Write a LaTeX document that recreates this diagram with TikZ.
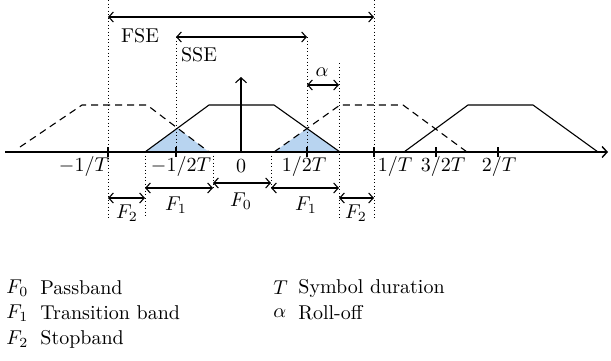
\documentclass[tikz,border=0pt]{standalone}
\usetikzlibrary{arrows.meta}
\definecolor{triblue}{RGB}{184,212,240}
\begin{document}
\begin{tikzpicture}[x=0.5pt,y=-0.5pt,
  ax/.style={line width=0.7pt},
  trap/.style={line width=0.55pt},
  dtrap/.style={line width=0.55pt, dash pattern=on 3.5pt off 2.5pt},
  vdot/.style={line width=0.45pt, dash pattern=on 0.45pt off 1.3pt},
  tipa/.style={-{Straight Barb[length=2.5pt,width=5.5pt]}},
  dimarr/.style={line width=0.55pt, {Straight Barb[length=2.3pt,width=5pt]}-{Straight Barb[length=2.3pt,width=5pt]}},
  tri/.style={fill=triblue, draw=none},
  lbl/.style={font=\fontsize{10}{12}\selectfont, inner sep=1pt},
  tick/.style={line width=0.55pt},
]
\useasboundingbox (0,0) rectangle (611,360);

% shaded triangles
\fill[tri] (145,152) -- (177.5,128.1) -- (209,152) -- cycle;
\fill[tri] (274,152) -- (307,128.5) -- (340,152) -- cycle;

% axis
\coordinate (axL) at (5,152);
\coordinate (axR) at (608,152);
\draw[ax,tipa] (axL) -- (axR);

% trapezoids
\draw[trap] (145,152) -- (209,105) -- (274,105) -- (340,152);
\draw[trap] (404,152) -- (468,105) -- (533,105) -- (598,152);
\draw[dtrap] (20,147) -- (82,105) -- (147,105) -- (209,152);
\draw[dtrap] (274,152) -- (340,105) -- (403,105) -- (467,152);

% vertical arrow at 0
\coordinate (o) at (241,152);
\coordinate (otop) at (241,77);
\draw[trap,tipa] (o) -- (otop);

% ticks
\foreach \x in {108,176,307,374,436,498}
  \draw[tick] (\x,147) -- (\x,157);

% tick labels
\node[lbl] (tm1) at (84,166) {$-1/T$};
\node[lbl] (tmh) at (181,166) {$-1/2T$};
\node[lbl] (t0) at (241,166) {$0$};
\node[lbl] (tph) at (304,166) {$1/2T$};
\node[lbl] (tp1) at (395,166) {$1/T$};
\node[lbl] (tp3) at (443,166) {$3/2T$};
\node[lbl] (tp2) at (499,166) {$2/T$};

% dotted guides
\coordinate (d1t) at (108,0);   \coordinate (d1b) at (108,218);
\coordinate (d2t) at (374,0);   \coordinate (d2b) at (374,218);
\coordinate (d3t) at (176,37);  \coordinate (d3b) at (176,152);
\coordinate (d4t) at (307,37);  \coordinate (d4b) at (307,152);
\coordinate (d5t) at (339,63);  \coordinate (d5b) at (339,218);
\coordinate (d6t) at (145,152); \coordinate (d6b) at (145,218);
\coordinate (d7t) at (213,152); \coordinate (d7b) at (213,190);
\coordinate (d8t) at (271,152); \coordinate (d8b) at (271,190);
\foreach \i in {1,...,8} \draw[vdot] (d\i t) -- (d\i b);

% dimension arrows
\coordinate (fseL) at (108,17); \coordinate (fseR) at (374,17);
\draw[dimarr] (fseL) -- (fseR);
\node[lbl] (fse) at (140,36) {FSE};
\coordinate (sseL) at (176,37); \coordinate (sseR) at (307,37);
\draw[dimarr] (sseL) -- (sseR);
\node[lbl] (sse) at (199,55) {SSE};
\coordinate (alL) at (307,85); \coordinate (alR) at (339,85);
\draw[dimarr] (alL) -- (alR);
\node[lbl] (al) at (322,72) {$\alpha$};

\coordinate (a1) at (108,198); \coordinate (a2) at (145,198);
\draw[dimarr] (a1) -- (a2);
\node[lbl] (f2l) at (127,213) {$F_2$};
\coordinate (b1) at (145,188); \coordinate (b2) at (213,188);
\draw[dimarr] (b1) -- (b2);
\node[lbl] (f1l) at (176,205) {$F_1$};
\coordinate (c1) at (213,183); \coordinate (c2) at (271,183);
\draw[dimarr] (c1) -- (c2);
\node[lbl] (f0) at (241,201) {$F_0$};
\coordinate (e1) at (271,188); \coordinate (e2) at (339,188);
\draw[dimarr] (e1) -- (e2);
\node[lbl] (f1r) at (306,205) {$F_1$};
\coordinate (g1) at (339,198); \coordinate (g2) at (374,198);
\draw[dimarr] (g1) -- (g2);
\node[lbl] (f2r) at (356,213) {$F_2$};

% legend
\node[lbl,anchor=west] (k0) at (4,288) {$F_0$};
\node[lbl,anchor=west] (v0) at (38,288) {Passband};
\node[lbl,anchor=west] (k1) at (4,313) {$F_1$};
\node[lbl,anchor=west] (v1) at (38,313) {Transition band};
\node[lbl,anchor=west] (k2) at (4,339) {$F_2$};
\node[lbl,anchor=west] (v2) at (38,339) {Stopband};
\node[lbl,anchor=west] (kT) at (271,288) {$T$};
\node[lbl,anchor=west] (vT) at (296,288) {Symbol duration};
\node[lbl,anchor=west] (ka) at (271,313) {$\alpha$};
\node[lbl,anchor=west] (va) at (296,313) {Roll-off};
\end{tikzpicture}
\end{document}
